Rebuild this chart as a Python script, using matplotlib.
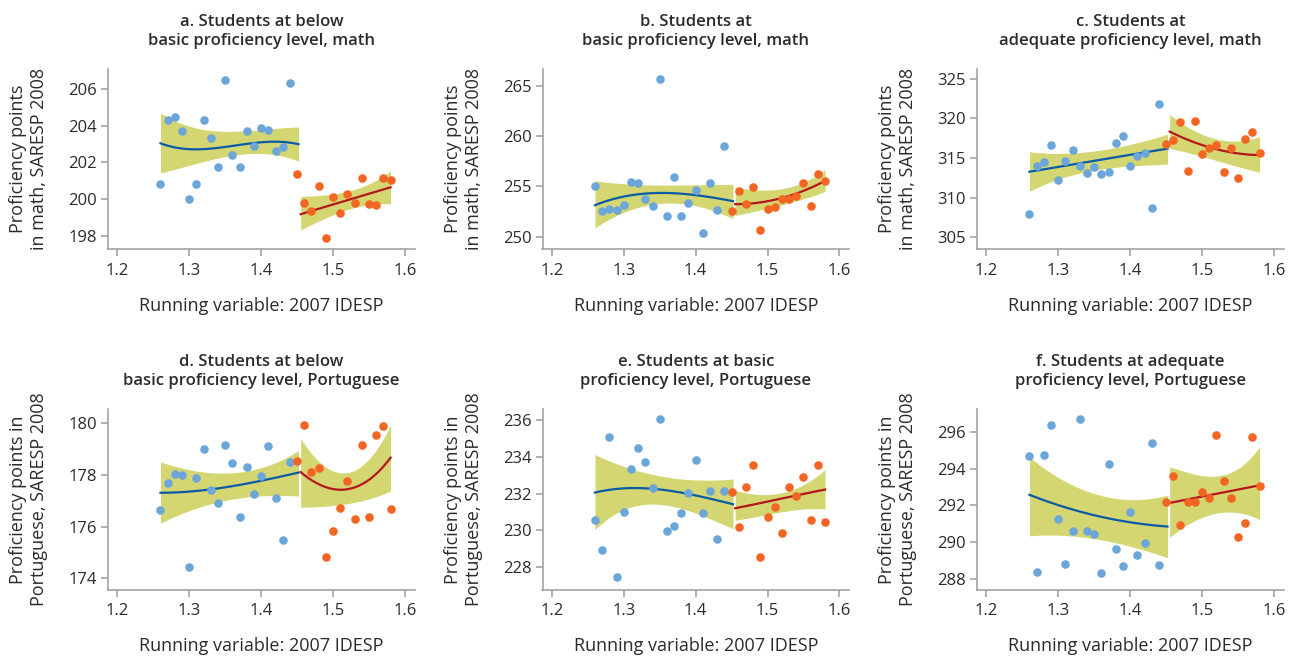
import matplotlib.pyplot as plt
import numpy as np

plt.rcParams['font.family'] = ['Open Sans', 'DejaVu Sans']

# Bins of the running variable (2007 IDESP) and bin means of 2008 scores
running = [1.26, 1.27, 1.28, 1.29, 1.30, 1.31, 1.32, 1.33, 1.34, 1.35, 1.36,
           1.37, 1.38, 1.39, 1.40, 1.41, 1.42, 1.43, 1.44, 1.45, 1.46, 1.47,
           1.48, 1.49, 1.50, 1.51, 1.52, 1.53, 1.54, 1.55, 1.56, 1.57, 1.58]
cutoff = 1.445

# x positions where fitted curves and confidence bands are given
knots_left = [1.26, 1.30, 1.34, 1.38, 1.42, 1.452]
knots_right = [1.455, 1.49, 1.52, 1.55, 1.58]

# a. below basic, math
a_pts = [200.82, 204.30, 204.48, 203.71, 200.02, 200.85, 204.32, 203.33, 201.77,
         206.47, 202.39, 201.77, 203.69, 202.91, 203.87, 203.74, 202.62, 202.84,
         206.31, 201.36, 199.81, 199.34, 200.71, 197.89, 200.15, 199.23, 200.26,
         199.81, 201.14, 199.75, 199.68, 201.14, 201.05]
a_fit_l = [203.04, 202.71, 202.82, 202.97, 203.15, 202.98]
a_lo_l = [201.41, 201.88, 202.21, 202.44, 202.46, 202.05]
a_hi_l = [204.70, 203.91, 203.76, 203.72, 203.81, 203.94]
a_fit_r = [199.19, 199.60, 199.95, 200.30, 200.65]
a_lo_r = [198.34, 198.96, 199.48, 199.68, 199.75]
a_hi_r = [200.15, 200.24, 200.42, 200.84, 201.54]

# b. basic, math
b_pts = [255.06, 252.58, 252.81, 252.71, 253.14, 255.49, 255.32, 253.73, 253.11,
         265.63, 252.12, 255.95, 252.12, 253.37, 254.63, 250.36, 255.39, 252.68,
         258.99, 252.58, 254.53, 253.31, 254.96, 250.73, 252.74, 253.00, 253.77,
         253.80, 254.03, 255.32, 253.07, 256.21, 255.52]
b_fit_l = [253.11, 254.10, 254.26, 254.23, 254.05, 253.50]
b_lo_l = [250.86, 252.51, 253.21, 253.21, 252.84, 251.75]
b_hi_l = [255.58, 255.25, 255.16, 255.16, 255.16, 255.22]
b_fit_r = [253.24, 253.44, 253.83, 254.59, 255.55]
b_lo_r = [252.12, 252.71, 253.11, 253.83, 254.49]
b_hi_r = [254.92, 254.66, 254.76, 255.42, 256.67]

# c. adequate, math
c_pts = [307.94, 313.97, 314.43, 316.61, 312.17, 314.56, 316.03, 313.97, 313.13,
         313.89, 312.92, 313.22, 316.95, 317.83, 314.01, 315.31, 315.65, 308.69,
         321.81, 316.82, 317.29, 319.59, 313.39, 319.63, 315.48, 316.24, 316.66,
         313.26, 316.24, 312.42, 317.37, 318.33, 315.57]
c_fit_l = [313.26, 313.87, 314.48, 315.09, 315.70, 316.18]
c_lo_l = [310.79, 312.34, 313.26, 313.81, 314.10, 314.22]
c_hi_l = [315.78, 315.57, 315.78, 316.32, 317.16, 318.00]
c_fit_r = [318.33, 316.95, 316.11, 315.57, 315.36]
c_lo_r = [316.19, 315.48, 314.64, 313.93, 313.18]
c_hi_r = [320.51, 318.42, 317.37, 317.16, 317.70]

# d. below basic, Portuguese
d_pts = [176.66, 177.68, 178.05, 177.99, 174.45, 177.87, 179.00, 177.43, 176.91,
         179.17, 178.45, 176.36, 178.31, 177.27, 177.96, 179.13, 177.09, 175.49,
         178.49, 178.55, 179.92, 178.12, 178.26, 174.81, 175.82, 176.73, 177.75,
         176.31, 179.14, 176.39, 179.56, 179.88, 176.70]
d_fit_l = [177.31, 177.36, 177.48, 177.66, 177.90, 178.09]
d_lo_l = [176.13, 176.62, 176.95, 177.14, 177.21, 177.18]
d_hi_l = [178.51, 178.18, 178.08, 178.18, 178.44, 178.96]
d_fit_r = [178.12, 177.49, 177.51, 177.77, 178.68]
d_lo_r = [176.75, 176.78, 176.91, 177.06, 177.38]
d_hi_r = [179.42, 178.25, 178.18, 178.55, 179.94]

# e. basic, Portuguese
e_pts = [230.58, 228.93, 235.09, 227.44, 230.98, 233.36, 234.49, 233.73, 232.33,
         236.05, 229.93, 230.25, 230.93, 232.04, 233.85, 230.93, 232.16, 229.51,
         232.15, 232.11, 230.20, 232.36, 233.58, 228.51, 230.71, 231.29, 229.84,
         232.36, 231.89, 232.93, 230.55, 233.55, 230.45]
e_fit_l = [232.04, 232.33, 232.22, 232.04, 231.76, 231.40]
e_lo_l = [230.00, 231.22, 231.35, 231.13, 230.73, 230.04]
e_hi_l = [234.13, 233.49, 233.04, 232.80, 232.73, 232.80]
e_fit_r = [231.20, 231.48, 231.73, 231.98, 232.22]
e_lo_r = [230.55, 230.76, 231.04, 231.13, 231.16]
e_hi_r = [232.18, 231.95, 232.04, 232.49, 233.31]

# f. adequate, Portuguese
f_pts = [294.72, 288.35, 294.75, 296.37, 291.25, 288.79, 290.61, 296.70, 290.61,
         290.46, 288.33, 294.29, 289.63, 288.72, 291.63, 289.27, 289.94, 295.43,
         288.75, 292.20, 293.61, 290.95, 292.20, 292.20, 292.73, 292.42, 295.83,
         293.36, 292.39, 290.28, 291.06, 295.76, 293.06]
f_fit_l = [292.59, 292.00, 291.58, 291.23, 290.95, 290.86]
f_lo_l = [290.35, 290.35, 290.26, 289.98, 289.52, 289.16]
f_hi_l = [294.66, 293.47, 292.83, 292.42, 292.28, 292.59]
f_fit_r = [292.14, 292.41, 292.64, 292.87, 293.10]
f_lo_r = [290.26, 291.17, 291.58, 291.60, 291.23]
f_hi_r = [294.11, 293.71, 293.60, 294.02, 295.21]

titles = ["a. Students at below\nbasic proficiency level, math",
          "b. Students at\nbasic proficiency level, math",
          "c. Students at\nadequate proficiency level, math",
          "d. Students at below\nbasic proficiency level, Portuguese",
          "e. Students at basic\nproficiency level, Portuguese",
          "f. Students at adequate\nproficiency level, Portuguese"]
ylabels = ["Proficiency points\nin math, SARESP 2008"] * 3 + \
          ["Proficiency points in\nPortuguese, SARESP 2008"] * 3
xlabel = "Running variable: 2007 IDESP"
yticks = [[198, 200, 202, 204, 206], [250, 255, 260, 265], [305, 310, 315, 320, 325],
          [174, 176, 178, 180], [228, 230, 232, 234, 236], [288, 290, 292, 294, 296]]
ylims = [(197.3, 207.1), (248.8, 266.7), (303.5, 326.3),
         (173.57, 180.55), (226.76, 236.62), (287.41, 297.27)]
xticks = [1.2, 1.3, 1.4, 1.5, 1.6]

panels = [
    (a_pts, a_fit_l, a_lo_l, a_hi_l, a_fit_r, a_lo_r, a_hi_r),
    (b_pts, b_fit_l, b_lo_l, b_hi_l, b_fit_r, b_lo_r, b_hi_r),
    (c_pts, c_fit_l, c_lo_l, c_hi_l, c_fit_r, c_lo_r, c_hi_r),
    (d_pts, d_fit_l, d_lo_l, d_hi_l, d_fit_r, d_lo_r, d_hi_r),
    (e_pts, e_fit_l, e_lo_l, e_hi_l, e_fit_r, e_lo_r, e_hi_r),
    (f_pts, f_fit_l, f_lo_l, f_hi_l, f_fit_r, f_lo_r, f_hi_r),
]

BLUE_PT = '#6CA5D8'
ORANGE_PT = '#F26522'
BLUE_LINE = '#0A5BA6'
RED_LINE = '#B5161E'
BAND = '#D4D672'
AXIS = '#9C9C9C'
TEXT = '#2B2B2B'


def smooth(knots, vals, n=120):
    deg = min(3, len(knots) - 1)
    coef = np.polyfit(knots, vals, deg)
    xs = np.linspace(knots[0], knots[-1], n)
    return xs, np.polyval(coef, xs)


W, H = 1292, 660
fig = plt.figure(figsize=(W / 100, H / 100), dpi=100)

col_left = [108, 542.5, 977]
row_top = [68.5, 409]
ax_w, ax_h = 307, 180.5

x = np.array(running)
left = x < cutoff

for i, (pts, fl, lol, hil, fr, lor, hir) in enumerate(panels):
    r, c = divmod(i, 3)
    ax = fig.add_axes([col_left[c] / W, 1 - (row_top[r] + ax_h) / H, ax_w / W, ax_h / H])
    y = np.array(pts)

    # confidence bands and fitted curves on each side of the cutoff
    for knots, fit, lo, hi, lc in [(knots_left, fl, lol, hil, BLUE_LINE),
                                   (knots_right, fr, lor, hir, RED_LINE)]:
        xs, ylo = smooth(knots, lo)
        _, yhi = smooth(knots, hi)
        _, yfit = smooth(knots, fit)
        ax.fill_between(xs, ylo, yhi, color=BAND, linewidth=0, zorder=1)
        ax.plot(xs, yfit, color=lc, linewidth=1.6, zorder=2)

    ax.scatter(x[left], y[left], s=38, color=BLUE_PT, linewidths=0, zorder=3)
    ax.scatter(x[~left], y[~left], s=38, color=ORANGE_PT, linewidths=0, zorder=3)

    ax.set_xlim(1.187, 1.614)
    ax.set_ylim(*ylims[i])
    ax.set_xticks(xticks)
    ax.set_xticklabels([f"{t:.1f}" for t in xticks])
    ax.set_yticks(yticks[i])

    for s in ['top', 'right']:
        ax.spines[s].set_visible(False)
    for s in ['left', 'bottom']:
        ax.spines[s].set_color(AXIS)
        ax.spines[s].set_linewidth(1.1)
    ax.tick_params(colors=AXIS, labelcolor=TEXT, labelsize=12, length=5,
                   width=1.1)
    ax.tick_params(axis='x', pad=5)
    ax.tick_params(axis='y', pad=3)

    ax.set_title(titles[i], fontsize=12, fontweight='semibold', color=TEXT,
                 pad=17, linespacing=1.25)
    ax.set_xlabel(xlabel, fontsize=13, color=TEXT)
    ax.xaxis.set_label_coords(0.5, -0.265)
    ax.set_ylabel(ylabels[i], fontsize=13, color=TEXT, linespacing=1.2)
    ax.yaxis.set_label_coords(-0.195, 0.5)

fig.savefig('out.png', dpi=100, facecolor='white')
